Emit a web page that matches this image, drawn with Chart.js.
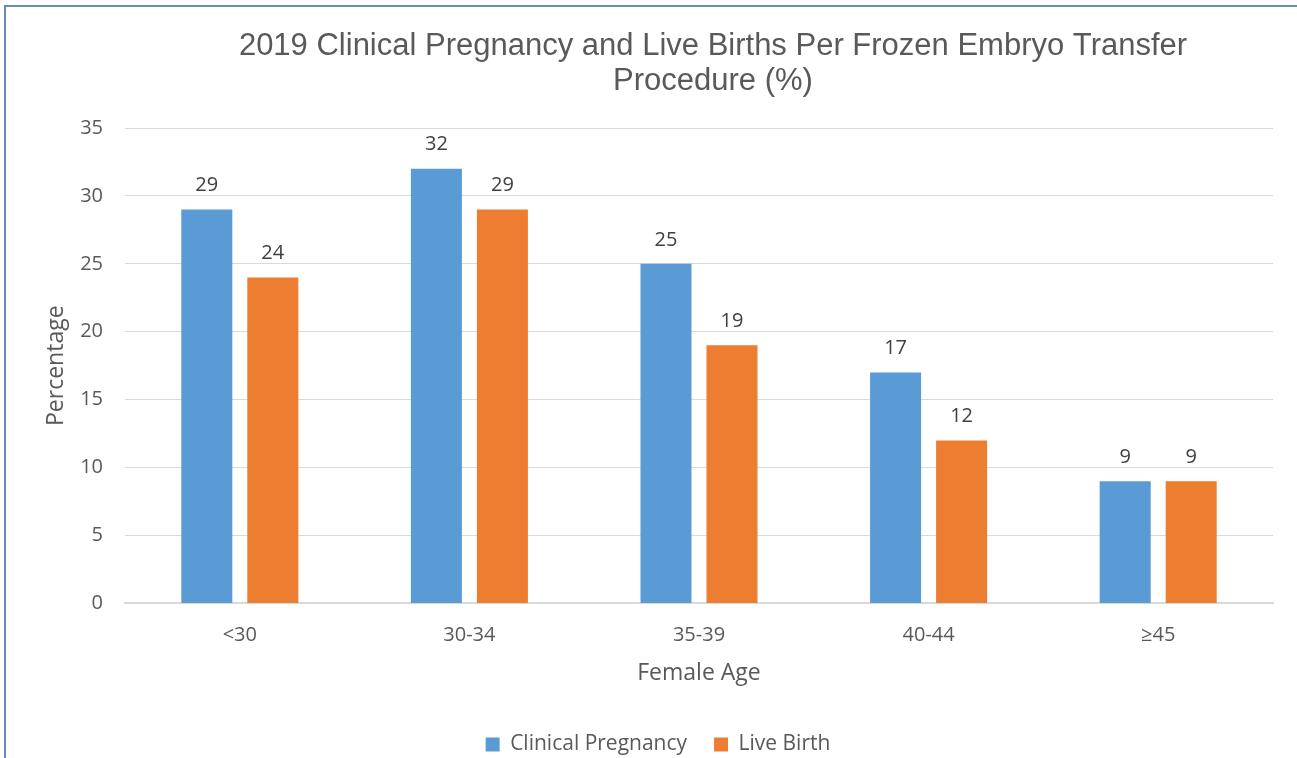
<!DOCTYPE html>
<html>
<head>
<meta charset="utf-8">
<script src="https://cdn.jsdelivr.net/npm/chart.js@4"></script>
<style>
  html, body { margin: 0; padding: 0; background: #fff; overflow: hidden; }
  #frame {
    position: absolute; left: 4px; top: 5px;
    width: 1293px; height: 760px;
    border-left: 2px solid #6a8db8; border-top: 2px solid #6a8db8;
  }
  #GraficoIdade { display: block; }
</style>
</head>
<body>
<div id="frame">
  <canvas id="GraficoIdade" width="1291" height="758"></canvas>
</div>
<script>
var faixas = ['<30', '30-34', '35-39', '40-44', '\u226545'];
var gravidezClinica = [29, 32, 25, 17, 9];
var nascidosVivos = [24, 29, 19, 12, 9];
var marcasY = [0, 5, 10, 15, 20, 25, 30, 35];

var corTexto = '#595959';
var fonteTexto = '"Open Sans", "Noto Sans", sans-serif';

// title is drawn by hand so it can sit off-centre like the original
var tituloPlugin = {
    id: 'tituloManual',
    afterDraw: function (chart) {
        var ctx = chart.ctx;
        ctx.save();
        ctx.fillStyle = corTexto;
        ctx.font = '31px "Liberation Sans", Arial, sans-serif';
        ctx.textAlign = 'center';
        ctx.textBaseline = 'middle';
        ctx.fillText('2019 Clinical Pregnancy and Live Births Per Frozen Embryo Transfer', 707, 39);
        ctx.fillText('Procedure (%)', 707, 74);
        ctx.restore();
    }
};

var rotulosPlugin = {
    id: 'rotulosValores',
    afterDatasetsDraw: function (chart) {
        var ctx = chart.ctx;
        ctx.save();
        ctx.fillStyle = '#404040';
        ctx.font = '20px ' + fonteTexto;
        ctx.textAlign = 'center';
        ctx.textBaseline = 'bottom';
        chart.data.datasets.forEach(function (ds, i) {
            chart.getDatasetMeta(i).data.forEach(function (barra, j) {
                ctx.fillText(ds.data[j], barra.x, barra.y - 14);
            });
        });
        ctx.restore();
    }
};

var ctx = document.getElementById('GraficoIdade').getContext('2d');
var grafico = new Chart(ctx, {
    type: 'bar',
    data: {
        labels: faixas,
        datasets: [
            {
                label: 'Clinical Pregnancy',
                backgroundColor: '#5b9bd5',
                data: gravidezClinica
            },
            {
                label: 'Live Birth',
                backgroundColor: '#ed7d31',
                data: nascidosVivos
            }
        ]
    },
    options: {
        responsive: false,
        animation: false,
        layout: { padding: { left: 37, right: 24, top: 121, bottom: 0 } },
        datasets: {
            bar: { categoryPercentage: 0.575, barPercentage: 0.773 }
        },
        plugins: {
            title: { display: false },
            tooltip: { enabled: false },
            legend: {
                position: 'bottom',
                labels: {
                    color: corTexto,
                    font: { family: fonteTexto, size: 21 },
                    boxWidth: 14,
                    boxHeight: 14,
                    padding: 27
                }
            }
        },
        scales: {
            x: {
                grid: { display: false },
                border: { display: true, color: '#d9d9d9', width: 2 },
                ticks: {
                    color: corTexto,
                    font: { family: fonteTexto, size: 20 },
                    padding: 12
                },
                title: {
                    display: true,
                    text: 'Female Age',
                    color: corTexto,
                    font: { family: fonteTexto, size: 23 },
                    padding: { top: 0, bottom: 20 }
                }
            },
            y: {
                min: 0,
                max: 35,
                afterFit: function (eixo) { eixo.width = 82; },
                afterBuildTicks: function (eixo) {
                    eixo.ticks = marcasY.map(function (v) { return { value: v }; });
                },
                grid: { color: '#d9d9d9', drawTicks: false },
                border: { display: false },
                ticks: {
                    color: corTexto,
                    font: { family: fonteTexto, size: 20 },
                    padding: 22
                },
                title: {
                    display: true,
                    text: 'Percentage',
                    color: corTexto,
                    font: { family: fonteTexto, size: 23 },
                    padding: 0
                }
            }
        }
    },
    plugins: [tituloPlugin, rotulosPlugin]
});
</script>
</body>
</html>
